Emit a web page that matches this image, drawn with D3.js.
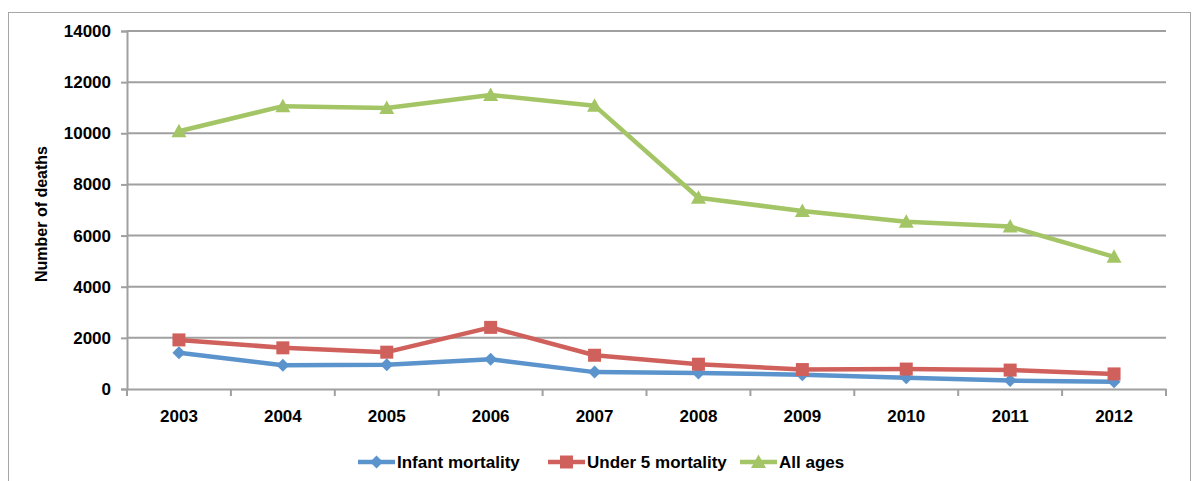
<!DOCTYPE html>
<html><head><meta charset="utf-8">
<script src="https://cdn.jsdelivr.net/npm/d3@7"></script>
<style>body{margin:0;background:#fff}svg{display:block}text{font-family:"Liberation Sans",Arial,sans-serif;font-weight:bold;fill:#000}</style>
</head><body><svg id="c" width="1193" height="481"></svg>
<script>
const years=["2003","2004","2005","2006","2007","2008","2009","2010","2011","2012"];
const infant=[1420,930,950,1160,660,630,560,440,330,280];
const under5=[1920,1610,1440,2410,1320,970,760,780,740,590];
const allAges=[10080,11060,10990,11500,11080,7480,6960,6540,6350,5170];
const yTicks=[0,2000,4000,6000,8000,10000,12000,14000];
const seriesNames=["Infant mortality","Under 5 mortality","All ages"];
const colors=["#5b93cc","#d0605c","#a4c566"];
const FONT='"Liberation Sans",Arial,sans-serif';

const diamond=(ctx)=>{const r=6.5;ctx.moveTo(0,-r);ctx.lineTo(r,0);ctx.lineTo(0,r);ctx.lineTo(-r,0);ctx.closePath();};
const square=(ctx)=>{const r=6.5;ctx.rect(-r,-r,2*r,2*r);};
const tri=(ctx)=>{ctx.moveTo(0,-7.5);ctx.lineTo(7.5,6);ctx.lineTo(-7.5,6);ctx.closePath();};
const shapes=[diamond,square,tri];
const shapePath=f=>{const p=d3.path();f(p);return p.toString();};

const svg=d3.select("#c");
svg.append("rect").attr("x",8.5).attr("y",12.5).attr("width",1182).attr("height",480).attr("fill","none").attr("stroke","#a6a6a6");
const L=127,R=1166,T=31,B=389;
const x=d3.scaleBand().domain(years).range([L,R]);
const y=d3.scaleLinear().domain([0,14000]).range([B,T]);
svg.append("g").selectAll("line").data(yTicks.slice(1)).join("line")
 .attr("x1",L).attr("x2",R).attr("y1",d=>y(d)).attr("y2",d=>y(d)).attr("stroke","#a0a0a0").attr("stroke-width",2);
const ya=svg.append("g").attr("transform",`translate(${L},0)`).call(d3.axisLeft(y).tickValues(yTicks).tickSize(6).tickPadding(10).tickFormat(d3.format("d")));
ya.select(".domain").attr("stroke","#a0a0a0").attr("stroke-width",2);
ya.selectAll(".tick line").attr("stroke","#a0a0a0").attr("stroke-width",2);
ya.selectAll("text").attr("font-size",17).style("font-family",FONT).style("font-weight","bold");
const xa=svg.append("g").attr("transform",`translate(0,${B})`).call(d3.axisBottom(x).tickSize(0).tickPadding(21));
xa.select(".domain").attr("stroke","#a0a0a0").attr("stroke-width",2);
xa.selectAll("text").attr("font-size",17).style("font-family",FONT).style("font-weight","bold");
const bounds=years.map(d=>x(d)).concat([R]);
svg.append("g").selectAll("line").data(bounds).join("line")
 .attr("x1",d=>d).attr("x2",d=>d).attr("y1",B).attr("y2",B+7).attr("stroke","#a0a0a0").attr("stroke-width",2);
svg.append("text").attr("transform","translate(47,214) rotate(-90)").attr("text-anchor","middle").attr("font-size",16).text("Number of deaths");
const data=[infant,under5,allAges];
const cx=d=>x(d)+x.bandwidth()/2;
const line=d3.line().x((d,i)=>cx(years[i])).y(d=>y(d));
data.forEach((s,k)=>{
  svg.append("path").attr("d",line(s)).attr("fill","none").attr("stroke",colors[k]).attr("stroke-width",4.5).attr("stroke-linejoin","round");
  svg.append("g").selectAll("path").data(s).join("path")
   .attr("d",shapePath(shapes[k]))
   .attr("transform",(d,i)=>`translate(${cx(years[i])},${y(d)})`).attr("fill",colors[k]);
});
const lx=[358,548,740];
seriesNames.forEach((n,k)=>{
  const g=svg.append("g").attr("transform",`translate(${lx[k]},462)`);
  g.append("line").attr("x1",0).attr("x2",37).attr("stroke",colors[k]).attr("stroke-width",4.5);
  g.append("path").attr("d",shapePath(shapes[k])).attr("transform","translate(18.5,0)").attr("fill",colors[k]);
  g.append("text").attr("x",39).attr("dy","0.35em").attr("font-size",17).text(n);
});
</script></body></html>
